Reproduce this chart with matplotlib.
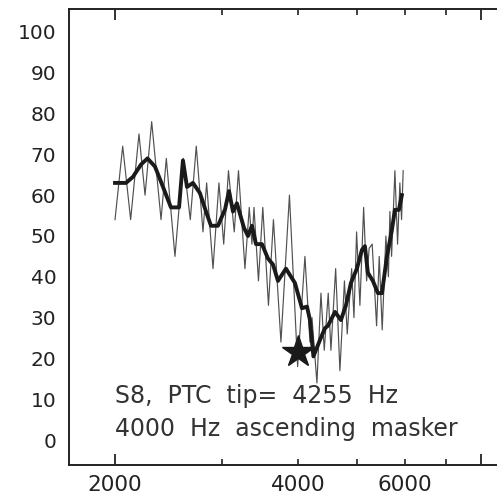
import matplotlib
matplotlib.use("Agg")
import matplotlib.pyplot as plt
from matplotlib.ticker import FixedLocator, NullFormatter

# Raw (thin) masker-level track
raw_freq = [2000, 2059, 2122, 2190, 2241, 2298, 2381, 2429, 2510, 2590, 2660, 2721,
            2791, 2830, 2899, 2965, 3019, 3074, 3142, 3193, 3272, 3326, 3360, 3386,
            3444, 3501, 3577, 3645, 3750, 3873, 3995, 4107, 4186, 4218, 4298, 4364,
            4419, 4486, 4532, 4614, 4689, 4770, 4821, 4902, 4945, 4995, 5058, 5130,
            5188, 5239, 5299, 5388, 5442, 5504, 5581, 5635, 5667, 5703, 5775, 5834,
            5885, 5923, 5959]
raw_level = [54, 72, 54, 75, 60, 78, 54, 69, 45, 69, 54, 72,
             51, 63, 42, 63, 48, 66, 51, 66, 42, 57, 48, 57,
             39, 57, 33, 54, 24, 60, 18, 45, 24, 30, 14, 36,
             22, 36, 22, 42, 17, 39, 26, 42, 30, 51, 33, 57,
             39, 47, 48, 28, 45, 27, 50, 40, 56, 45, 66, 48,
             63, 54, 66]

# Smoothed (thick) track
smooth_freq = [2000, 2085, 2141, 2207, 2262, 2327, 2399, 2472, 2549, 2587, 2627, 2687,
               2759, 2823, 2877, 2954, 3034, 3080, 3127, 3174, 3260, 3310, 3360, 3412,
               3490, 3570, 3639, 3708, 3822, 3954, 4061, 4139, 4186, 4241, 4347, 4430,
               4481, 4602, 4707, 4797, 4889, 5001, 5097, 5155, 5213, 5313, 5415, 5499,
               5603, 5710, 5775, 5863, 5930]
smooth_level = [63, 63, 64.5, 67.5, 69, 67, 62, 57, 57, 68.5, 62, 63,
                60.5, 56, 52.5, 52.5, 56.5, 61, 56, 58, 52, 50, 52.5, 48,
                48, 44.5, 43, 39, 42, 38.5, 32.3, 32.7, 29.4, 20.5, 24.5, 27.4,
                28, 31.4, 29.4, 33, 38.5, 42, 46.6, 47.5, 41, 39, 36, 36,
                45, 51.5, 56.4, 56.4, 60]

probe_freq = [4000]
probe_level = [21.6]

y_ticks = list(range(0, 101, 10))
y_long_ticks = list(range(0, 101, 20))
x_long_ticks = [2000, 8000]
x_short_ticks = [3000, 4000, 5000, 6000, 7000]
x_labels = ["2000", "4000", "6000"]
x_label_pos = [2000, 4000, 6000]

line1 = "S8,  PTC  tip=  4255  Hz"
line2 = "4000  Hz  ascending  masker"

W, H = 497, 498
fig = plt.figure(figsize=(W / 100, H / 100), dpi=100)
ax = fig.add_axes([69 / W, 33 / H, (500 - 69) / W, (465 - 9) / H])

ax.plot(raw_freq, raw_level, color="#505050", lw=0.85, zorder=2)
ax.plot(smooth_freq, smooth_level, color="#1a1a1a", lw=2.8, zorder=3,
        solid_joinstyle="round")
ax.plot(probe_freq, probe_level, marker="*", color="#1a1a1a", markersize=24,
        linestyle="none", zorder=4)

ax.set_xscale("log")
ax.set_xlim(1680, 8600)
ax.set_ylim(-6.1, 105.6)

# y axis
ax.yaxis.set_major_locator(FixedLocator(y_ticks))
ax.yaxis.set_minor_locator(FixedLocator(y_long_ticks))
ax.yaxis.set_minor_formatter(NullFormatter())
ax.tick_params(axis="y", which="major", length=0, pad=9, labelsize=14.5,
               labelcolor="#222222")
ax.tick_params(axis="y", which="minor", length=10, width=1.3, direction="in",
               color="#222222")

# x axis
ax.xaxis.set_major_locator(FixedLocator(x_long_ticks))
ax.xaxis.set_minor_locator(FixedLocator(x_short_ticks))
ax.xaxis.set_major_formatter(NullFormatter())
ax.xaxis.set_minor_formatter(NullFormatter())
ax.tick_params(axis="x", which="major", length=8, width=1.3, direction="in",
               top=True, color="#222222")
ax.tick_params(axis="x", which="minor", length=4, width=1.2, direction="in",
               top=True, color="#222222")
for xp, lab in zip(x_label_pos, x_labels):
    ax.text(xp, -0.022, lab, transform=ax.get_xaxis_transform(), ha="center",
            va="top", fontsize=15.5, color="#222222")

for s in ax.spines.values():
    s.set_linewidth(1.4)
    s.set_color("#222222")

ax.text(2000, 10.8, line1, fontsize=17, color="#333333", ha="left", va="center")
ax.text(2000, 2.6, line2, fontsize=17, color="#333333", ha="left", va="center")

fig.savefig("out.png", dpi=100)
